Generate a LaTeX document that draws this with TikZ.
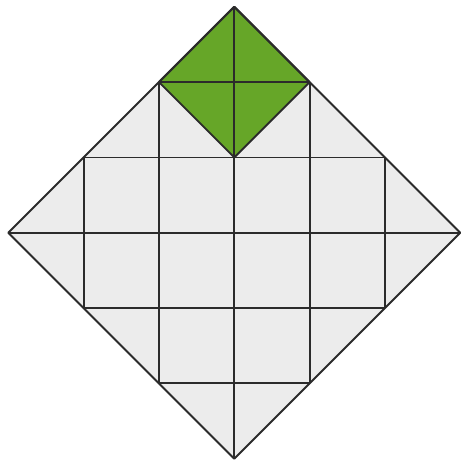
\documentclass[tikz,border=0pt]{standalone}
\usetikzlibrary{calc}
\definecolor{cellgrey}{HTML}{ECECEC}
\definecolor{leafgreen}{HTML}{66A628}
\definecolor{gridline}{HTML}{2B2B2B}
\tikzset{
    board/.style={
        fill=cellgrey, draw=gridline,
        line width=0.7pt, line join=round
    },
    gridrule/.style={draw=gridline, line width=0.7pt},
    highlight/.style={
        fill=leafgreen, draw=gridline,
        line width=0.7pt, line join=round
    }
}

\begin{document}
\begin{tikzpicture}

    \useasboundingbox (-3.11,-3.03) rectangle (3.0,3.09);

    % --- Corners of the outer diamond ---
    \coordinate (top)    at (0,3);
    \coordinate (left)   at (-3,0);
    \coordinate (bottom) at (0,-3);
    \coordinate (right)  at (3,0);

    % --- Grey board ---
    \path[board, draw=none] (top) -- (left) -- (bottom) -- (right) -- cycle;

    % --- Grid lines, clipped to the diamond ---
    \begin{scope}
        \clip (top) -- (left) -- (bottom) -- (right) -- cycle;
        \foreach \k in {-2,...,2} {
            \draw[gridrule] (\k,-3) -- (\k,3);
            \draw[gridrule] (-3,\k) -- (3,\k);
        }
    \end{scope}

    % --- Green diamond at the top ---
    \coordinate (gtop)    at (0,3);
    \coordinate (gleft)   at (-1,2);
    \coordinate (gbottom) at (0,1);
    \coordinate (gright)  at (1,2);
    \draw[highlight] (gtop) -- (gleft) -- (gbottom) -- (gright) -- cycle;
    \draw[gridrule] (gtop) -- (gbottom);
    \draw[gridrule] (gleft) -- (gright);

    % --- Outline ---
    \draw[board, fill=none] (top) -- (left) -- (bottom) -- (right) -- cycle;

\end{tikzpicture}
\end{document}
